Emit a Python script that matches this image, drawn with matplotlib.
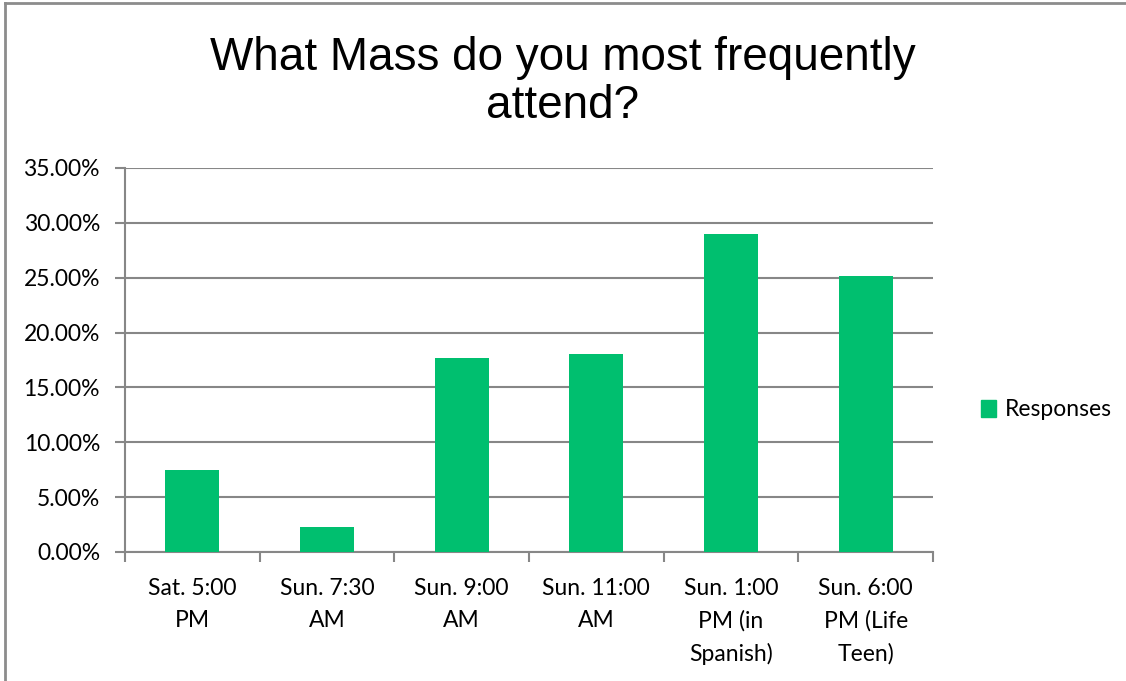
import matplotlib
matplotlib.use("Agg")
import matplotlib.pyplot as plt
from matplotlib.lines import Line2D
from matplotlib.patches import Rectangle

categories = ["Sat. 5:00\nPM", "Sun. 7:30\nAM", "Sun. 9:00\nAM", "Sun. 11:00\nAM",
              "Sun. 1:00\nPM (in\nSpanish)", "Sun. 6:00\nPM (Life\nTeen)"]
responses = [7.47, 2.28, 17.7, 18.05, 29.0, 25.2]
yticks = [0, 5, 10, 15, 20, 25, 30, 35]

GREEN = "#00BF6F"
GRID = "#878787"
LABEL_FONT = "Lato"

fig = plt.figure(figsize=(11.26, 6.81), dpi=100)
ax = fig.add_axes([125 / 1126, 129 / 681, 808 / 1126, 384 / 681])

x = list(range(len(categories)))
ax.bar(x, responses, width=0.4, color=GREEN, zorder=3, label="Responses")

ax.set_xlim(-0.5, len(categories) - 0.5)
ax.set_ylim(0, 35)
ax.set_yticks(yticks)
ax.set_yticklabels([f"{v:.2f}%" for v in yticks], fontsize=16.5, family=LABEL_FONT)
ax.yaxis.grid(True, color=GRID, linewidth=1.5, zorder=0)

# category labels centred, tick marks on the boundaries
ax.set_xticks(x)
ax.set_xticklabels(categories, fontsize=16.5, family=LABEL_FONT, linespacing=1.62)
ax.tick_params(axis="x", length=0, pad=19)
ax.set_xticks([i - 0.5 for i in range(len(categories) + 1)], minor=True)
ax.tick_params(axis="x", which="minor", length=7, width=1.5, color=GRID, direction="out")
ax.tick_params(axis="y", length=7, width=1.5, color=GRID, pad=11)

for side in ["top", "right"]:
    ax.spines[side].set_visible(False)
for side in ["left", "bottom"]:
    ax.spines[side].set_color(GRID)
    ax.spines[side].set_linewidth(1.5)

fig.text(0.5, 1 - 82 / 681, "What Mass do you most frequently\nattend?", ha="center", va="center",
         fontsize=33, family="Liberation Sans", linespacing=1.1)

leg = fig.legend(handles=[Rectangle((0, 0), 1, 1, color=GREEN)], labels=["Responses"],
                 loc="center left", bbox_to_anchor=(0.853, 1 - 410 / 681), frameon=False,
                 prop={"family": LABEL_FONT, "size": 16.5}, handlelength=0.65, handleheight=0.7,
                 handletextpad=0.4)

# chart area border (top and left edges visible)
fig.add_artist(Line2D([0.004, 1], [0.995, 0.995], transform=fig.transFigure, color="#8c8c8c", lw=2))
fig.add_artist(Line2D([0.004, 0.004], [0, 0.995], transform=fig.transFigure, color="#8c8c8c", lw=2))

fig.savefig("out.png", dpi=100)
